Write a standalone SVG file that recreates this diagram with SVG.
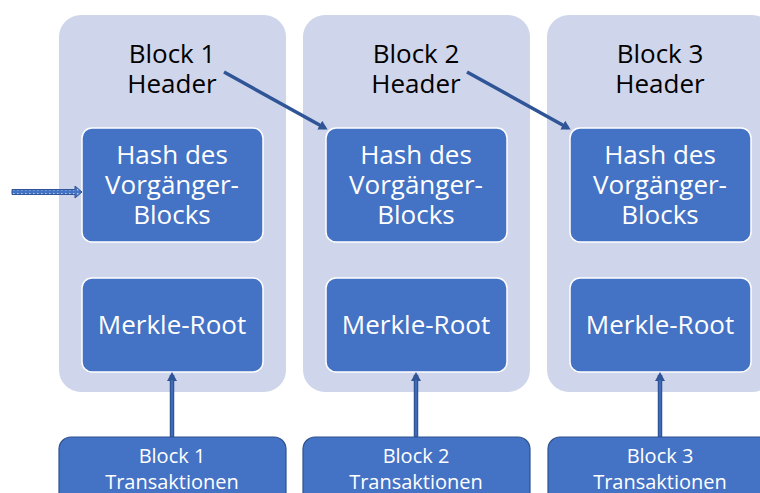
<svg xmlns="http://www.w3.org/2000/svg" width="760" height="493" viewBox="0 0 760 493">
<style>
.hdr{fill:#CFD5EA}
.inner{fill:#4472C4;stroke:#FFFFFF;stroke-width:1.5}
.tx{fill:#4472C4;stroke:#2F528F;stroke-width:1.2}
.t{font-family:"Open Sans",Lato,sans-serif;text-anchor:middle}
.ht{font-size:26px;fill:#000}
.wt{font-size:26px;fill:#FFFFFF}
.bt{font-size:20px;fill:#FFFFFF}
.conn{stroke:#2F5597;stroke-width:3.5;fill:none}
.up{stroke:#2F5597;stroke-width:4.5;fill:none}
.upin{stroke:#4472C4;stroke-width:1.5;fill:none}
</style>
<defs>
<marker id="ah" markerWidth="10" markerHeight="10" refX="6" refY="5" orient="auto" markerUnits="userSpaceOnUse">
<path d="M0,0 L9,5 L0,10 Z" fill="#2F5597"/>
</marker>
<pattern id="dots" width="4" height="4" patternUnits="userSpaceOnUse">
<rect width="4" height="4" fill="#4472C4"/>
<rect x="1" y="1" width="1.5" height="1.5" fill="#B4C7E7"/>
</pattern>
</defs>
<g id="block1">
<rect class="hdr" x="59" y="15" width="227" height="377" rx="22"/>
<text class="t ht" x="172" y="63">Block 1</text>
<text class="t ht" x="172" y="93">Header</text>
<g id="hash1"><rect class="inner" x="82" y="128" width="181" height="114" rx="10"/>
<text class="t wt" x="172" y="164">Hash des</text><text class="t wt" x="172" y="194">Vorgänger-</text><text class="t wt" x="172" y="224">Blocks</text></g>
<g id="merkle1"><rect class="inner" x="82" y="278" width="181" height="94" rx="10"/>
<text class="t wt" x="172" y="334">Merkle-Root</text></g>
</g>
<g id="block2">
<rect class="hdr" x="303" y="15" width="227" height="377" rx="22"/>
<text class="t ht" x="416" y="63">Block 2</text>
<text class="t ht" x="416" y="93">Header</text>
<g id="hash2"><rect class="inner" x="326" y="128" width="181" height="114" rx="10"/>
<text class="t wt" x="416" y="164">Hash des</text><text class="t wt" x="416" y="194">Vorgänger-</text><text class="t wt" x="416" y="224">Blocks</text></g>
<g id="merkle2"><rect class="inner" x="326" y="278" width="181" height="94" rx="10"/>
<text class="t wt" x="416" y="334">Merkle-Root</text></g>
</g>
<g id="block3">
<rect class="hdr" x="547" y="15" width="227" height="377" rx="22"/>
<text class="t ht" x="660" y="63">Block 3</text>
<text class="t ht" x="660" y="93">Header</text>
<g id="hash3"><rect class="inner" x="570" y="128" width="181" height="114" rx="10"/>
<text class="t wt" x="660" y="164">Hash des</text><text class="t wt" x="660" y="194">Vorgänger-</text><text class="t wt" x="660" y="224">Blocks</text></g>
<g id="merkle3"><rect class="inner" x="570" y="278" width="181" height="94" rx="10"/>
<text class="t wt" x="660" y="334">Merkle-Root</text></g>
</g>
<g id="tx1"><rect class="tx" x="59" y="437" width="227" height="70" rx="12"/>
<text class="t bt" x="172" y="463">Block 1</text><text class="t bt" x="172" y="489">Transaktionen</text></g>
<g id="tx2"><rect class="tx" x="303" y="437" width="227" height="70" rx="12"/>
<text class="t bt" x="416" y="463">Block 2</text><text class="t bt" x="416" y="489">Transaktionen</text></g>
<g id="tx3"><rect class="tx" x="548" y="437" width="227" height="70" rx="12"/>
<text class="t bt" x="660" y="463">Block 3</text><text class="t bt" x="660" y="489">Transaktionen</text></g>
<g id="connectors">
<path d="M12,189.5 L75,189.5 L75,186 L82,192 L75,198 L75,194.5 L12,194.5 Z" fill="url(#dots)" stroke="#2F5597" stroke-width="1"/>
<line class="conn" x1="224" y1="72" x2="325" y2="128" marker-end="url(#ah)"/>
<line class="conn" x1="467" y1="72" x2="568" y2="128" marker-end="url(#ah)"/>
<line class="up" x1="172" y1="437" x2="172" y2="375" marker-end="url(#ah)"/>
<line class="upin" x1="172" y1="436" x2="172" y2="380"/>
<line class="up" x1="416" y1="437" x2="416" y2="375" marker-end="url(#ah)"/>
<line class="upin" x1="416" y1="436" x2="416" y2="380"/>
<line class="up" x1="660" y1="437" x2="660" y2="375" marker-end="url(#ah)"/>
<line class="upin" x1="660" y1="436" x2="660" y2="380"/>
</g>
</svg>
